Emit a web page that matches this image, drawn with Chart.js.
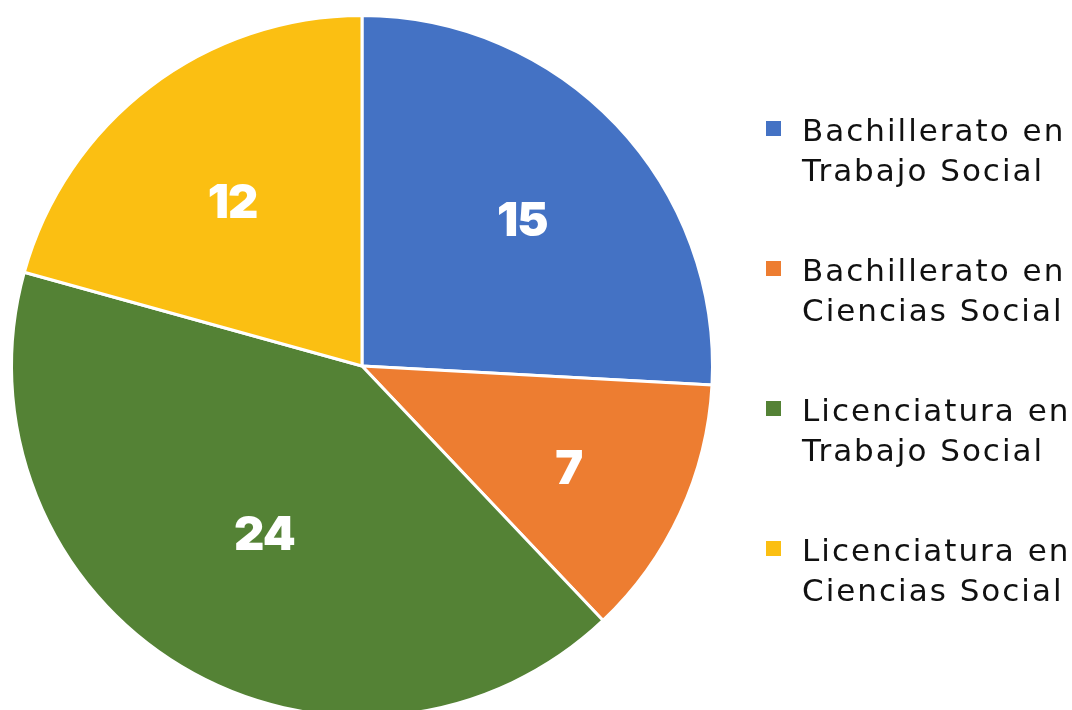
<!DOCTYPE html>
<html>
<head>
<meta charset="utf-8">
<script src="https://cdn.jsdelivr.net/npm/chart.js@4.4.0/dist/chart.umd.min.js"></script>
<style>
  html, body { margin: 0; padding: 0; background: #fff; overflow: hidden; }
  #wrap { position: relative; width: 1072px; height: 730px; }
  #legend { position: absolute; left: 766px; top: 0; font-family: 'DejaVu Sans', sans-serif; }
  .item { position: absolute; left: 0; width: 310px; }
  .box { position: absolute; left: 0; top: 11px; width: 15px; height: 15px; }
  .txt { position: absolute; left: 36px; top: 0; font-size: 31px; letter-spacing: 2px; line-height: 40px; color: #111; white-space: nowrap; }
</style>
</head>
<body>
<div id="wrap">
  <canvas id="pie"></canvas>
  <div id="legend"></div>
</div>
<script>
const categories = [
    ['Bachillerato en', 'Trabajo Social'],
    ['Bachillerato en', 'Ciencias Social'],
    ['Licenciatura en', 'Trabajo Social'],
    ['Licenciatura en', 'Ciencias Social']
];
const values = [15, 7, 24, 12];
const colors = ['#4472C4', '#ED7D31', '#548235', '#FBBF12'];

// where each number sits, as a share of the radius
const labelRadius = [0.63, 0.65, 0.54, 0.61];

const legendEl = document.getElementById('legend');
categories.forEach((lines, i) => {
    const item = document.createElement('div');
    item.className = 'item';
    item.style.top = (110 + i * 140) + 'px';
    const box = document.createElement('div');
    box.className = 'box';
    box.style.background = colors[i];
    const txt = document.createElement('div');
    txt.className = 'txt';
    txt.innerHTML = lines.join('<br>');
    item.appendChild(box);
    item.appendChild(txt);
    legendEl.appendChild(item);
});

const valueLabels = {
    id: 'valueLabels',
    afterDatasetsDraw(chart) {
        const ctx = chart.ctx;
        const meta = chart.getDatasetMeta(0);
        ctx.save();
        ctx.fillStyle = '#fff';
        ctx.font = '900 47px Inter, sans-serif';
        ctx.letterSpacing = '-1px';
        ctx.textAlign = 'center';
        ctx.textBaseline = 'alphabetic';
        meta.data.forEach((arc, i) => {
            const p = arc.getProps(['x', 'y', 'startAngle', 'endAngle', 'outerRadius'], true);
            const mid = (p.startAngle + p.endAngle) / 2;
            const r = p.outerRadius * labelRadius[i];
            ctx.fillText(String(values[i]), p.x + Math.cos(mid) * r, p.y + Math.sin(mid) * r + 22);
        });
        ctx.restore();
    }
};

var ctx = document.getElementById('pie').getContext('2d');
var pieChart = new Chart(ctx, {
    type: 'pie',
    data: {
        labels: categories.map(l => l.join(' ')),
        datasets: [{
            data: values,
            backgroundColor: colors,
            borderColor: '#fff',
            borderWidth: 3
        }]
    },
    options: {
        responsive: true,
        maintainAspectRatio: false,
        animation: false,
        layout: {
            padding: { left: 10, top: 14, right: 358, bottom: 12 }
        },
        plugins: {
            legend: { display: false },
            tooltip: { enabled: false }
        }
    },
    plugins: [valueLabels]
});
</script>
</body>
</html>
